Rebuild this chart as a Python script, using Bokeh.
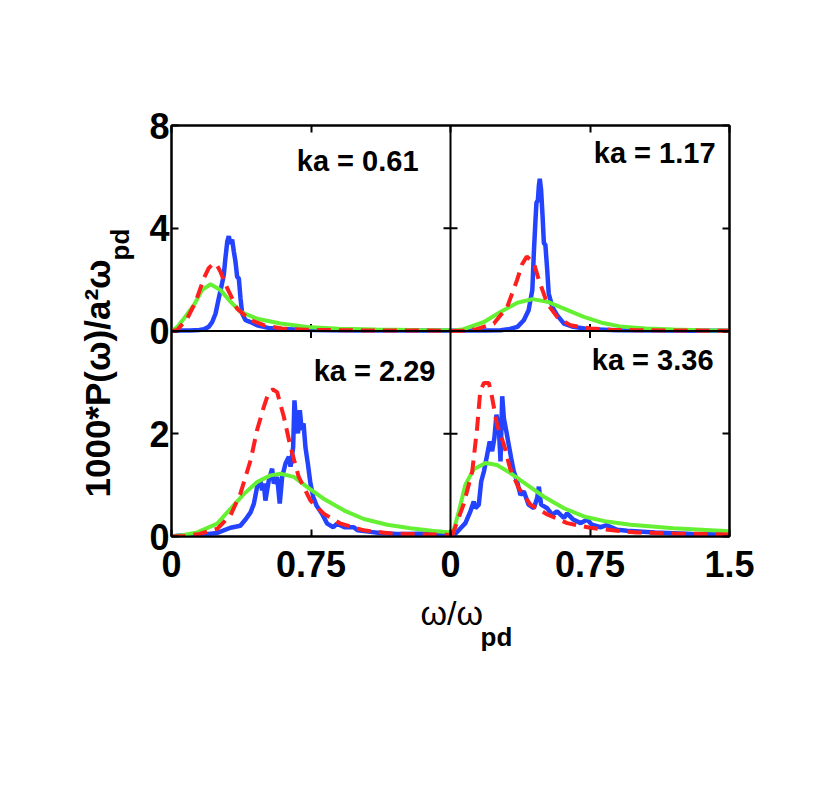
import math
from bokeh.plotting import figure
from bokeh.models import Range1d, LinearAxis, FixedTicker, Span, Label, Title
from bokeh.embed import file_html
from bokeh.resources import INLINE

# ---------------- data ----------------
# panel ka = 0.61 (top left)
ka061_sim_x = [0, 0.05, 0.1, 0.15, 0.174, 0.2, 0.219, 0.237, 0.254, 0.272, 0.281, 0.29, 0.30, 0.308,
               0.317, 0.326, 0.335, 0.344, 0.353, 0.362, 0.371, 0.38, 0.398, 0.425, 0.46, 0.52, 0.59,
               0.7, 0.85, 1.0, 1.2, 1.5]
ka061_sim_y = [0.01, 0.02, 0.02, 0.04, 0.07, 0.16, 0.35, 0.68, 1.27, 1.86, 2.18, 2.84, 3.49, 3.69,
               3.40, 3.56, 3.10, 2.70, 2.10, 2.05, 1.27, 0.68, 0.42, 0.35, 0.22, 0.12, 0.08,
               0.05, 0.03, 0.02, 0.02, 0.01]
ka061_red_x = [0, 0.03, 0.084, 0.13, 0.174, 0.2, 0.227, 0.245, 0.263, 0.30, 0.353, 0.425, 0.50, 0.60,
               0.72, 0.9, 1.1, 1.3, 1.5]
ka061_red_y = [0.0, 0.03, 0.48, 1.14, 2.05, 2.45, 2.64, 2.55, 2.31, 1.66, 0.87, 0.42, 0.22, 0.09,
               0.05, 0.03, 0.02, 0.02, 0.01]
ka061_grn_x = [0, 0.03, 0.066, 0.12, 0.165, 0.21, 0.263, 0.317, 0.37, 0.46, 0.586, 0.73, 0.9, 1.1, 1.3, 1.5]
ka061_grn_y = [0.0, 0.15, 0.48, 1.0, 1.6, 1.82, 1.6, 1.14, 0.75, 0.48, 0.29, 0.16, 0.09, 0.06, 0.04, 0.03]

# panel ka = 1.17 (top right)
ka117_sim_x = [0, 0.1, 0.2, 0.27, 0.32, 0.36, 0.394, 0.42, 0.44, 0.448, 0.457, 0.462, 0.47, 0.475, 0.48,
               0.487, 0.495, 0.502, 0.51, 0.52, 0.528, 0.547, 0.573, 0.61, 0.66, 0.75, 0.9, 1.1, 1.3, 1.5]
ka117_sim_y = [0.01, 0.02, 0.02, 0.03, 0.08, 0.16, 0.42, 0.81, 1.6, 3.03, 4.34, 4.99, 5.1, 5.65, 5.93,
               5.5, 4.47, 3.42, 3.36, 2.38, 1.46, 0.94, 0.62, 0.29, 0.16, 0.07, 0.03, 0.02, 0.01, 0.01]
ka117_red_x = [0, 0.08, 0.14, 0.233, 0.305, 0.358, 0.385, 0.41, 0.448, 0.475, 0.52, 0.573, 0.645, 0.75,
               0.86, 1.0, 1.2, 1.5]
ka117_red_y = [0, 0.01, 0.07, 0.29, 0.94, 1.99, 2.6, 2.9, 2.64, 1.99, 1.07, 0.55, 0.22, 0.1,
               0.05, 0.03, 0.02, 0.01]
ka117_grn_x = [0, 0.07, 0.18, 0.27, 0.36, 0.44, 0.52, 0.61, 0.717, 0.82, 0.91, 1.05, 1.2, 1.35, 1.5]
ka117_grn_y = [0.0, 0.07, 0.35, 0.75, 1.1, 1.24, 1.14, 0.87, 0.55, 0.31, 0.18, 0.1, 0.06, 0.03, 0.02]

# panel ka = 2.29 (bottom left)
ka229_sim_x = [0, 0.05, 0.15, 0.246, 0.317, 0.37, 0.40, 0.425, 0.443, 0.46, 0.478, 0.487, 0.496, 0.505,
               0.523, 0.541, 0.55, 0.568, 0.582, 0.595, 0.613, 0.631, 0.64, 0.654, 0.661, 0.67, 0.68,
               0.69, 0.70, 0.71, 0.72, 0.733, 0.747, 0.762, 0.78, 0.81, 0.837, 0.87, 0.89, 0.93, 0.98,
               1.0, 1.07, 1.12, 1.21, 1.26, 1.38, 1.5]
ka229_sim_y = [0.0, 0.02, 0.03, 0.07, 0.17, 0.21, 0.34, 0.47, 0.64, 0.96, 1.09, 0.9, 1.03, 0.7,
               1.09, 1.32, 1.03, 1.16, 0.64, 1.16, 1.42, 1.55, 1.36, 1.74, 2.65, 2.2, 2.01,
               2.46, 2.07, 2.2, 1.74, 1.42, 1.03, 0.77, 0.6, 0.44, 0.25, 0.18, 0.25, 0.18, 0.18,
               0.12, 0.09, 0.07, 0.05, 0.05, 0.06, 0.03]
ka229_red_x = [0, 0.07, 0.15, 0.246, 0.317, 0.37, 0.425, 0.46, 0.496, 0.523, 0.545, 0.568, 0.604, 0.64,
               0.684, 0.747, 0.82, 0.91, 1.034, 1.18, 1.29, 1.5]
ka229_red_y = [0, 0.01, 0.05, 0.15, 0.41, 0.83, 1.48, 2.07, 2.52, 2.81, 2.86, 2.81, 2.33, 1.74,
               1.16, 0.70, 0.44, 0.25, 0.12, 0.06, 0.05, 0.03]
ka229_grn_x = [0, 0.066, 0.138, 0.246, 0.317, 0.39, 0.46, 0.532, 0.586, 0.658, 0.73, 0.82, 0.926, 1.034,
               1.16, 1.285, 1.4, 1.5]
ka229_grn_y = [0.0, 0.03, 0.08, 0.25, 0.54, 0.83, 1.06, 1.19, 1.22, 1.16, 0.96, 0.73, 0.51, 0.34,
               0.23, 0.16, 0.11, 0.08]

# panel ka = 3.36 (bottom right)
ka336_sim_x = [0, 0.02, 0.054, 0.08, 0.107, 0.125, 0.134, 0.152, 0.165, 0.18, 0.197, 0.211, 0.224, 0.236,
               0.247, 0.26, 0.269, 0.278, 0.287, 0.30, 0.313, 0.326, 0.34, 0.358, 0.376, 0.394, 0.42,
               0.448, 0.466, 0.475, 0.487, 0.52, 0.547, 0.573, 0.61, 0.627, 0.66, 0.70, 0.735, 0.76,
               0.806, 0.84, 0.896, 0.95, 1.1, 1.3, 1.5]
ka336_sim_y = [0.0, 0.03, 0.16, 0.26, 0.49, 0.68, 0.55, 0.62, 1.07, 1.27, 1.59, 1.85, 1.66, 1.92,
               2.37, 2.11, 1.46, 2.73, 2.3, 2.05, 1.79, 1.53, 1.27, 1.07, 0.81, 0.88, 0.62,
               0.55, 0.75, 0.97, 0.62, 0.55, 0.42, 0.49, 0.36, 0.45, 0.33, 0.26, 0.33, 0.23,
               0.18, 0.22, 0.13, 0.11, 0.08, 0.05, 0.04]
ka336_red_x = [0, 0.01, 0.07, 0.117, 0.143, 0.16, 0.18, 0.206, 0.224, 0.25, 0.287, 0.32, 0.367, 0.43,
               0.52, 0.627, 0.75, 0.896, 1.0, 1.2, 1.5]
ka336_red_y = [0, 0.03, 0.62, 1.27, 2.11, 2.83, 2.99, 2.99, 2.7, 2.18, 1.79, 1.33, 0.94, 0.62,
               0.43, 0.26, 0.17, 0.11, 0.08, 0.06, 0.04]
ka336_grn_x = [0, 0.01, 0.045, 0.08, 0.125, 0.188, 0.25, 0.32, 0.41, 0.50, 0.61, 0.717, 0.84, 0.968, 1.2, 1.5]
ka336_grn_y = [0, 0.03, 0.49, 1.01, 1.31, 1.43, 1.39, 1.24, 1.01, 0.78, 0.55, 0.39, 0.29, 0.23, 0.16, 0.1]

panel_labels = ["ka = 0.61", "ka = 1.17", "ka = 2.29", "ka = 3.36"]

x_ticks = [0, 0.75, 1.5]
x_tick_labels = ["0", "0.75", "1.5"]
y_ticks_top = [0, 4, 8]
y_ticks_top_labels = ["0", "4", "8"]
y_ticks_bottom = [0, 2, 4]
y_ticks_bottom_labels = ["0", "2", "4"]

y_title = "1000*P(ω)/a²ω"
x_title = "ω/ω"
title_sub = "pd"

# ---------------- styling ----------------
FONT = "Liberation Sans"
BLUE = "#2343ff"
RED = "#ff1f1f"
GREEN = "#66f033"

X_LEFT = Range1d(0, 3)        # left-column panels: 0..1.5 occupies left half
X_RIGHT = Range1d(-1.5, 1.5)  # right-column panels: 0..1.5 occupies right half
Y_BOTTOM = Range1d(0, 8)      # bottom-row panels: 0..4 occupies lower half
Y_TOP = Range1d(-8, 8)        # top-row panels: 0..8 occupies upper half

p = figure(frame_width=558, frame_height=411,
           min_border_left=171, min_border_right=80, min_border_top=125, min_border_bottom=230,
           x_range=X_LEFT, y_range=Y_BOTTOM,
           x_axis_location=None, y_axis_location=None,
           output_backend="svg", toolbar_location=None)
p.extra_x_ranges = {"right": X_RIGHT}
p.extra_y_ranges = {"top": Y_TOP}
p.grid.visible = False
p.outline_line_color = "black"
p.outline_line_width = 2
p.background_fill_color = "white"
p.border_fill_color = "white"


def to_main(v, src, dst):
    return (v - src.start) * (dst.end - dst.start) / (src.end - src.start) + dst.start


x_over = {}
for t, l in zip(x_ticks, x_tick_labels):
    x_over[to_main(t, X_LEFT, X_LEFT)] = l
for t, l in zip(x_ticks, x_tick_labels):
    x_over[to_main(t, X_RIGHT, X_LEFT)] = l
x_pos = sorted(x_over.keys())

y_over = {}
for t, l in zip(y_ticks_bottom, y_ticks_bottom_labels):
    y_over[to_main(t, Y_BOTTOM, Y_BOTTOM)] = l
for t, l in zip(y_ticks_top, y_ticks_top_labels):
    y_over[to_main(t, Y_TOP, Y_BOTTOM)] = l
y_pos = sorted(y_over.keys())


def style_axis(ax, labels):
    ax.axis_line_color = "black"
    ax.axis_line_width = 2
    ax.major_tick_in = 7
    ax.major_tick_out = 0
    ax.major_tick_line_width = 2
    ax.major_tick_line_color = "black"
    ax.minor_tick_line_color = None
    ax.major_label_text_font = FONT
    ax.major_label_text_font_style = "bold"
    if labels:
        ax.major_label_text_color = "black"
        ax.major_label_text_font_size = "36px"
        ax.major_label_standoff = 2
    else:
        # tick marks only (box-style frame), no tick labels drawn
        ax.major_label_text_color = None
        ax.major_label_standoff = 0


xb = LinearAxis(ticker=FixedTicker(ticks=x_pos), major_label_overrides=x_over)
style_axis(xb, True)
xb.major_label_standoff = 14
p.add_layout(xb, "below")
xa = LinearAxis(ticker=FixedTicker(ticks=x_pos))
style_axis(xa, False)
p.add_layout(xa, "above")
yl = LinearAxis(ticker=FixedTicker(ticks=y_pos), major_label_overrides=y_over)
style_axis(yl, True)
p.add_layout(yl, "left")
yr = LinearAxis(ticker=FixedTicker(ticks=y_pos))
style_axis(yr, False)
p.add_layout(yr, "right")

mid_x = to_main(0, X_RIGHT, X_LEFT)
mid_y = to_main(0, Y_TOP, Y_BOTTOM)
p.add_layout(Span(location=mid_x, dimension="height", line_color="black", line_width=2))
p.add_layout(Span(location=mid_y, dimension="width", line_color="black", line_width=2))

inner_x = [v for v in x_pos if 0 < v < 3 and v != mid_x]
inner_y = [v for v in y_pos if 0 < v < 8 and v != mid_y]
p.scatter(x=inner_x, y=[mid_y] * len(inner_x), marker="dash", angle=math.pi / 2, size=14,
          line_color="black", line_width=2)
p.scatter(x=[mid_x] * len(inner_y), y=inner_y, marker="dash", size=14,
          line_color="black", line_width=2)

panels = [
    ("default", "top", ka061_sim_x, ka061_sim_y, ka061_red_x, ka061_red_y, ka061_grn_x, ka061_grn_y),
    ("right", "top", ka117_sim_x, ka117_sim_y, ka117_red_x, ka117_red_y, ka117_grn_x, ka117_grn_y),
    ("default", "default", ka229_sim_x, ka229_sim_y, ka229_red_x, ka229_red_y, ka229_grn_x, ka229_grn_y),
    ("right", "default", ka336_sim_x, ka336_sim_y, ka336_red_x, ka336_red_y, ka336_grn_x, ka336_grn_y),
]
for xr, yrn, bx, by, rx, ry, gx, gy in panels:
    p.line(bx, by, x_range_name=xr, y_range_name=yrn, line_color=BLUE, line_width=4.5)
    p.line(gx, gy, x_range_name=xr, y_range_name=yrn, line_color=GREEN, line_width=4)
    p.line(rx, ry, x_range_name=xr, y_range_name=yrn, line_color=RED, line_width=4, line_dash="14 8")

label_pos = [(1.328, 6.6, "default", "top"), (1.425, 6.93, "right", "top"),
             (1.419, 3.23, "default", "default"), (1.414, 3.43, "right", "default")]
for (lx, ly, xr, yrn), txt in zip(label_pos, panel_labels):
    p.add_layout(Label(x=lx, y=ly, x_range_name=xr, y_range_name=yrn, text=txt,
                       text_font=FONT, text_font_style="bold", text_font_size="29px",
                       text_align="right", text_baseline="middle", text_color="black"))

# axis titles as side-panel titles (subscripts as separate, smaller titles)
p.add_layout(Title(text=title_sub, align="left", offset=276, standoff=24, vertical_align="bottom",
                   text_font=FONT, text_font_style="bold", text_font_size="26px",
                   text_color="black"), "left")
p.add_layout(Title(text=y_title, align="left", offset=39, standoff=-52, vertical_align="bottom",
                   text_font=FONT, text_font_style="bold", text_font_size="35px",
                   text_color="black"), "left")
p.add_layout(Title(text=x_title, align="left", offset=249, standoff=28, vertical_align="top",
                   text_font=FONT, text_font_style="normal", text_font_size="34px",
                   text_color="black"), "below")
p.add_layout(Title(text=title_sub, align="left", offset=309, standoff=-52, vertical_align="top",
                   text_font=FONT, text_font_style="bold", text_font_size="26px",
                   text_color="black"), "below")

open("out.html", "w").write(file_html(p, INLINE))
